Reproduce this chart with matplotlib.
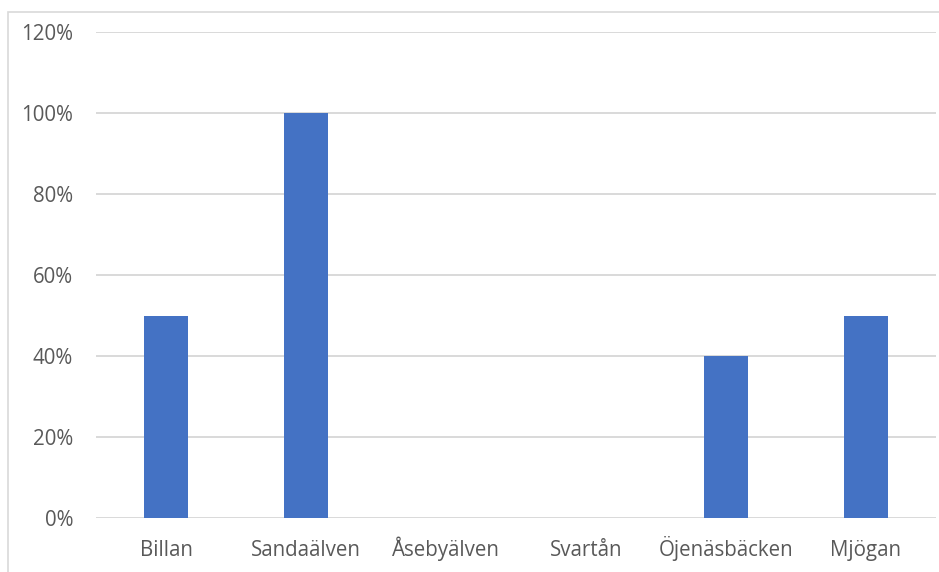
import matplotlib
matplotlib.use("Agg")
import matplotlib.pyplot as plt
from matplotlib.patches import Rectangle
from matplotlib.ticker import FuncFormatter, MultipleLocator

categories = ["Billan", "Sandaälven", "Åsebyälven", "Svartån", "Öjenäsbäcken", "Mjögan"]
values = [0.5, 1.0, 0.0, 0.0, 0.4, 0.5]

plt.rcParams['font.family'] = ['Open Sans', 'DejaVu Sans']

W, H = 939, 572
fig = plt.figure(figsize=(W/100, H/100), dpi=100)
fig.patches.append(Rectangle((8/W, -0.1), 1.2, (H-12)/H + 0.1, transform=fig.transFigure,
                             fill=False, edgecolor="#d9d9d9", linewidth=1.2))
ax = fig.add_axes([96/W, (H-518)/H, (936-96)/W, (518-32)/H])
x = range(len(categories))
ax.bar(x, values, width=0.315, color="#4472c4", zorder=3)
ax.set_xlim(-0.5, len(categories)-0.5)
ax.set_ylim(0, 1.2)
ax.yaxis.set_major_locator(MultipleLocator(0.2))
ax.yaxis.set_major_formatter(FuncFormatter(lambda v, p: f"{v*100:.0f}%"))
ax.grid(axis="y", color="#d9d9d9", linewidth=1.4, zorder=0)
for s in ax.spines.values():
    s.set_visible(False)
ax.tick_params(length=0, labelsize=14.8, labelcolor="#595959")
ax.tick_params(axis="y", pad=16.5)
ax.tick_params(axis="x", pad=27.4)
ax.set_xticks(list(x))
ax.set_xticklabels(categories, va="baseline")
fig.savefig("out.png", dpi=100)
